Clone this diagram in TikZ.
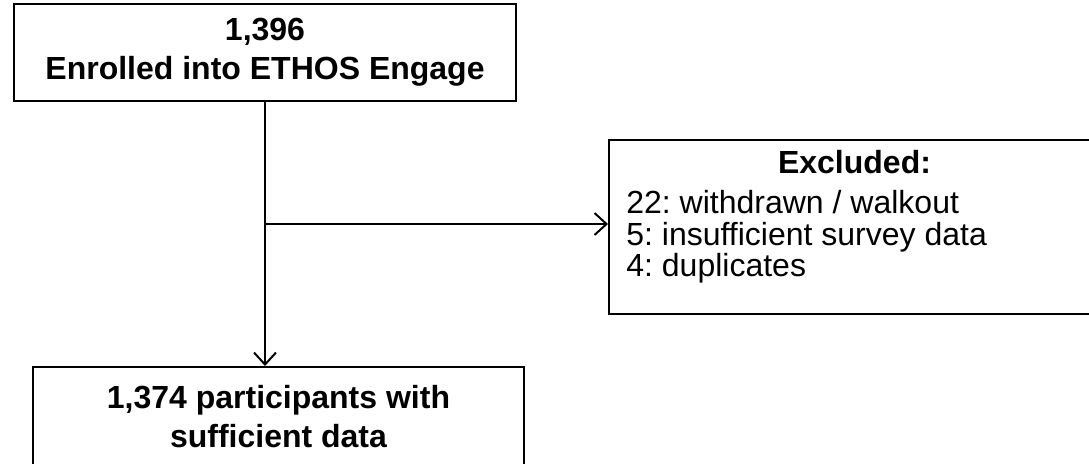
\documentclass[tikz,border=0pt]{standalone}
\usepackage{fontspec}
\setmainfont{Liberation Sans}
\frenchspacing
\usetikzlibrary{arrows.meta, positioning}
\newcommand{\fcfont}{\fontsize{16}{19.5}\selectfont}
\tikzset{
  fcbox/.style={rectangle, draw, line width=1pt, align=center, inner sep=0pt, font=\fcfont\bfseries},
  fctext/.style={inner sep=0pt, anchor=base west, font=\fcfont},
  fcarrow/.style={-{Straight Barb[length=6pt, width=11pt, line width=1pt]}, line width=1pt},
}

\begin{document}
\begin{tikzpicture}[x=0.5pt, y=-0.5pt]
  \useasboundingbox (0,0) rectangle (1089,463);

  % Flow boxes.
  \node[fcbox, minimum width=251pt, minimum height=48.5pt] (enrol) at (265,52.5)
    {1,396\\Enrolled into ETHOS Engage};
  \node[fcbox, minimum width=245.5pt, minimum height=50pt] (final) at (278.5,417)
    {1,374 participants with\\sufficient data};

  % Exclusion box.
  \node[fcbox, minimum width=245.5pt, minimum height=87pt] (excl) at (854.5,227) {};
  \node[fcbox, draw=none, anchor=base] (excl_title) at (854.5,173) {Excluded:};
  \node[fctext] (excl_a) at (626,213) {22: withdrawn / walkout};
  \node[fctext] (excl_b) at (626,245) {5: insufficient survey data};
  \node[fctext] (excl_c) at (626,276) {4: duplicates};

  % Edges.
  \coordinate (branch) at (enrol.south |- 0,224);
  \draw[fcarrow] (enrol.south) -- (enrol.south |- final.north);
  \draw[fcarrow] (branch) -- (branch -| excl.west);
\end{tikzpicture}
\end{document}
